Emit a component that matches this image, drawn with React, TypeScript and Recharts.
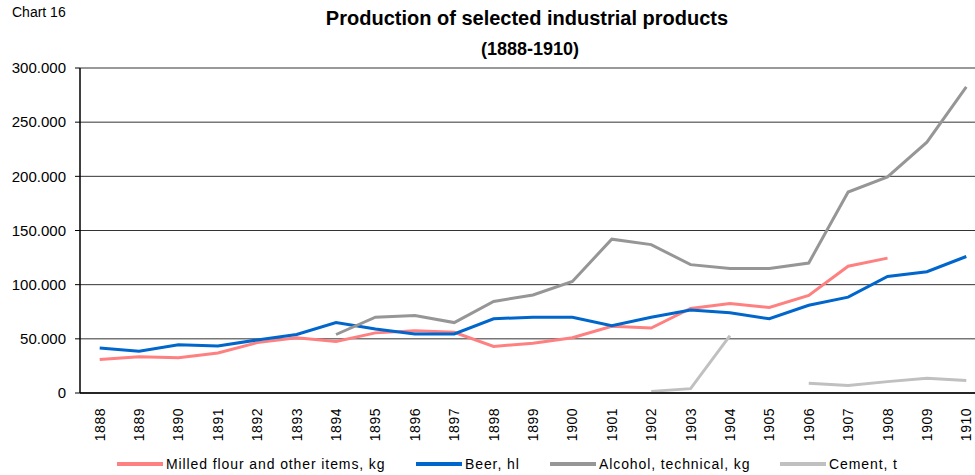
import React from "react";
import { CartesianGrid, Line, LineChart, XAxis, YAxis } from "recharts";

const years = [
  "1888", "1889", "1890", "1891", "1892", "1893", "1894", "1895", "1896", "1897", "1898", "1899",
  "1900", "1901", "1902", "1903", "1904", "1905", "1906", "1907", "1908", "1909", "1910",
];

const flour = [
  31000, 33500, 32500, 37000, 46500, 51000, 47500, 55500, 57500, 56000, 43000, 46000,
  51000, 61500, 60000, 78000, 82500, 79000, 90000, 117000, 124500, null, null,
];

const beer = [
  41500, 38500, 44500, 43500, 49000, 54000, 65000, 59000, 54500, 54500, 68500, 70000,
  70000, 62000, 70000, 76500, 74000, 68500, 81000, 88500, 107500, 112000, 126000,
];

const alcohol = [
  null, null, null, null, null, null, 54000, 70000, 71500, 65000, 84500, 90500,
  103000, 142000, 137000, 118500, 115000, 115000, 120000, 185500, 199500, 231500, 282500,
];

const cement = [
  null, null, null, null, null, null, null, null, null, null, null, null,
  null, null, 1500, 4000, 53000, null, 9000, 7000, 10500, 13500, 11500,
];

const yTicks = [0, 50000, 100000, 150000, 200000, 250000, 300000];
const boundaryTicks = years.map((_, i) => i).concat(years.length);

const series = [
  { key: "flour", name: "Milled flour and other items, kg", color: "#ff8080" },
  { key: "beer", name: "Beer, hl", color: "#0066cc" },
  { key: "alcohol", name: "Alcohol, technical, kg", color: "#969696" },
  { key: "cement", name: "Cement, t", color: "#c0c0c0" },
];

const data = years.map((year, i) => ({
  year,
  flour: flour[i],
  beer: beer[i],
  alcohol: alcohol[i],
  cement: cement[i],
}));

const fmt = (v: number) => String(v).replace(/\B(?=(\d{3})+(?!\d))/g, ".");

const font = "'Liberation Sans', Arial, sans-serif";

function YearTick(props: any) {
  const { x, y, payload } = props;
  return (
    <text
      x={x}
      y={y}
      transform={`rotate(-90, ${x}, ${y})`}
      textAnchor="end"
      dominantBaseline="central"
      fontSize={14}
      letterSpacing={0.5}
      fill="#000"
      fontFamily={font}
    >
      {payload.value}
    </text>
  );
}

// where each legend swatch starts
const legendPos = [117, 416, 550, 780];

export default function App() {
  return (
    <div
      style={{
        position: "fixed", left: 0, top: 0, width: 975, height: 475,
        overflow: "hidden", background: "#fff", fontFamily: font,
      }}
    >
      <LineChart
        width={1000}
        height={475}
        data={data}
        margin={{ top: 68, right: 14, bottom: 0, left: 0 }}
      >
        <CartesianGrid vertical={false} stroke="#333" strokeWidth={1} />
        <XAxis
          xAxisId="bounds"
          type="number"
          domain={[0, years.length]}
          ticks={boundaryTicks}
          allowDataOverflow
          tick={false}
          tickSize={6}
          tickLine={{ stroke: "#000" }}
          axisLine={false}
          height={0}
        />
        <XAxis
          dataKey="year"
          interval={0}
          padding={{ left: 19.7, right: 19.7 }}
          tick={<YearTick />}
          tickLine={false}
          tickSize={6}
          tickMargin={9}
          axisLine={{ stroke: "#000", strokeWidth: 1.5 }}
          height={82}
        />
        <YAxis
          domain={[0, 300000]}
          ticks={yTicks}
          tickFormatter={fmt}
          width={80}
          tickSize={5}
          tickMargin={9}
          tickLine={{ stroke: "#000" }}
          axisLine={{ stroke: "#000", strokeWidth: 1.5 }}
          tick={{ fontSize: 15, fill: "#000", fontFamily: font }}
        />
        {series.map((s) => (
          <Line
            key={s.key}
            type="linear"
            dataKey={s.key}
            name={s.name}
            stroke={s.color}
            strokeWidth={3}
            dot={false}
            isAnimationActive={false}
          />
        ))}
      </LineChart>
      <svg
        width={975}
        height={475}
        style={{ position: "absolute", left: 0, top: 0, pointerEvents: "none" }}
        fontFamily={font}
      >
        <text x={12} y={17} fontSize={14} fill="#000">Chart 16</text>
        <text x={527} y={25} fontSize={20} fontWeight="bold" textAnchor="middle" fill="#000">
          Production of selected industrial products
        </text>
        <text x={530} y={55} fontSize={18} fontWeight="bold" textAnchor="middle" fill="#000">
          (1888-1910)
        </text>
        {series.map((s, i) => (
          <g key={s.key}>
            <line x1={legendPos[i]} x2={legendPos[i] + 46} y1={464} y2={464} stroke={s.color} strokeWidth={4} />
            <text x={legendPos[i] + 49} y={469} fontSize={14} letterSpacing={0.9} fill="#000">{s.name}</text>
          </g>
        ))}
      </svg>
    </div>
  );
}
